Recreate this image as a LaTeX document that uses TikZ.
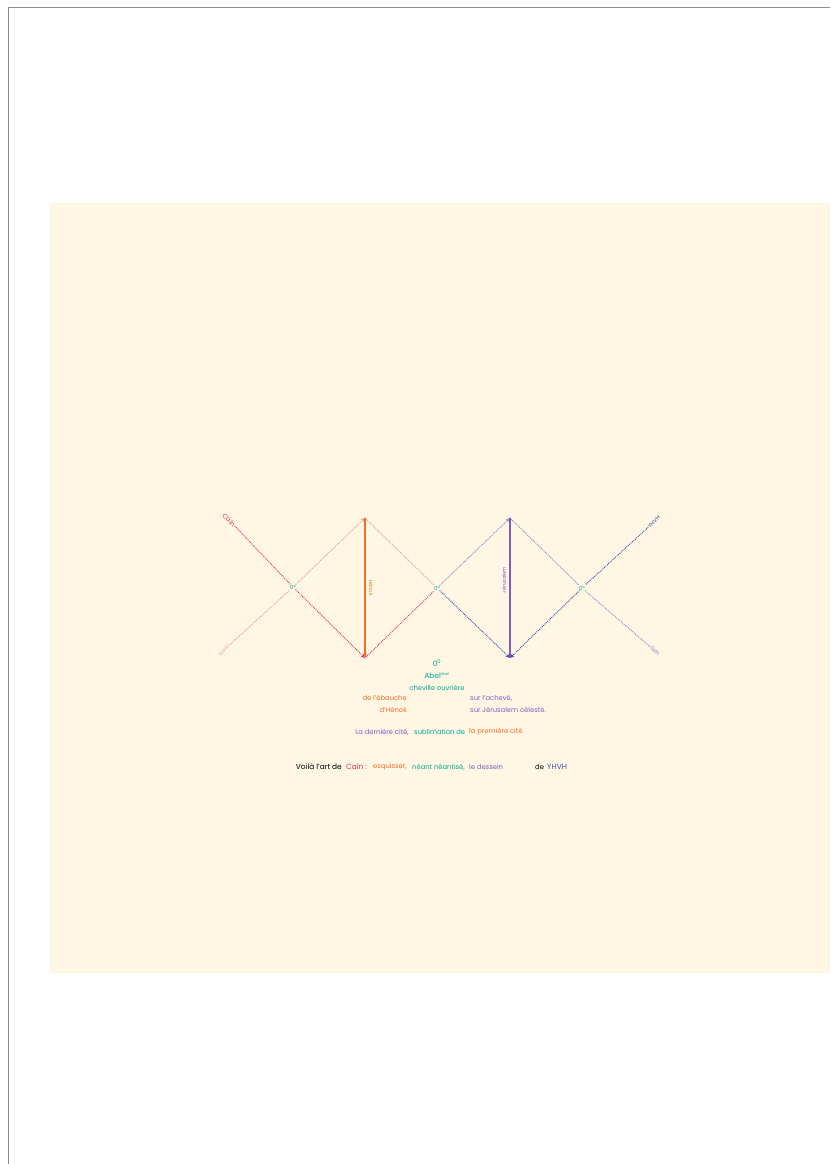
\documentclass[tikz,border=0pt]{standalone}
\usepackage{fontspec}
\setmainfont{Poppins}
\usetikzlibrary{positioning, arrows.meta}
\definecolor{paper}{RGB}{255,247,228}
\definecolor{frame}{RGB}{140,140,140}
\definecolor{cainred}{RGB}{232,45,90}
\definecolor{cainpink}{RGB}{238,150,165}
\definecolor{henorange}{RGB}{240,110,40}
\definecolor{abelteal}{RGB}{0,168,150}
\definecolor{jerpurple}{RGB}{130,90,190}
\definecolor{yhvhblue}{RGB}{60,75,175}
\definecolor{yhvhlight}{RGB}{130,140,205}

\begin{document}
\begin{tikzpicture}[
    x=1pt, y=-1pt,
    every node/.style={font=\fontsize{6.8}{8}\selectfont, inner sep=0pt},
    tag/.style={font=\fontsize{5}{6}\selectfont, inner sep=0.8pt},
    zero/.style={font=\fontsize{5.5}{6}\selectfont, text=abelteal,
        fill=paper, inner sep=0.6pt},
    dotline/.style={line width=1.3pt, line cap=round,
        dash pattern=on 0pt off 1.9pt},
    tip/.style={-{Stealth[length=4.5pt,width=3.5pt]}},
    bar/.style={line width=1.3pt},
]
\useasboundingbox (0,0) rectangle (830,1164);
\fill[white] (0,0) rectangle (830,1164);
\draw[frame, line width=0.8pt] (8,1164) -- (8,7) -- (830,7);
\fill[paper] (50,203) rectangle (830,973);

% ====== ENDS OF THE LINES ======
\node[tag, text=cainred, rotate=-45, font=\fontsize{6.5}{7}\selectfont]
    (cainL) at (229,520) {Caîn};
\node[tag, text=cainpink, rotate=45] (islL) at (224,650) {Isaac};
\node[tag, text=yhvhblue, rotate=45, font=\fontsize{5.5}{6}\selectfont]
    (yhvhL) at (654,522) {YHVH};
\node[tag, text=yhvhlight, rotate=-45] (isrL) at (655,651) {Seth};
\coordinate (henT)  at (365,518);
\coordinate (henB)  at (365,658);
\coordinate (jerT)  at (510,518);
\coordinate (jerB)  at (510,658);

% ====== CROSSINGS ======
\node[zero] (X1) at (293,587) {0°};
\node[zero] (X2) at (437,588) {0°};
\node[zero] (X3) at (582,588) {0°};

% ====== LEFT CROSS ======
\draw[dotline, cainred] (cainL) -- (X1);
\draw[dotline, cainred, tip] (X1) -- (henB);
\draw[dotline, cainpink] (islL) -- (X1);
\draw[dotline, cainpink, tip] (X1) -- (henT);

% ====== MIDDLE CROSS ======
\draw[dotline, cainpink] (henT) -- (X2);
\draw[dotline, yhvhblue, tip] (X2) -- (jerB);
\draw[dotline, cainred] (henB) -- (X2);
\draw[dotline, yhvhlight, tip] (X2) -- (jerT);

% ====== RIGHT CROSS ======
\draw[dotline, yhvhlight] (jerT) -- (X3);
\draw[dotline, yhvhlight] (X3) -- (isrL);
\draw[dotline, yhvhblue] (yhvhL) -- (X3);
\draw[dotline, yhvhblue, tip] (X3) -- (jerB);

% ====== BARS ======
\draw[bar, henorange, tip] (henT) -- (henB);
\draw[bar, jerpurple] (jerB) -- (jerT);
\node[tag, text=henorange, rotate=-90] (henL) at (371,588) {Hénok};
\node[tag, text=jerpurple, rotate=90] (jerL) at (504,580) {Jérusalem};

% ====== TEXT BELOW ======
\node[text=abelteal, font=\fontsize{7.5}{8}\selectfont] (zeroB) at (437,663)
    {0\textsuperscript{0}};
\node[text=abelteal, font=\fontsize{7.5}{8}\selectfont] (abel) at (437,676)
    {Abel\textsuperscript{\scalebox{0.7}{Abel}}};
\node[text=abelteal] (cheville) at (437,688) {cheville ouvrière};

\node[text=henorange, anchor=east] (ebauche) at (407,698) {de l'ébauche};
\node[text=henorange, anchor=east] (henok) at (407,710) {d'Hénok};
\node[text=jerpurple, anchor=west] (acheve) at (470,698) {sur l'achevé,};
\node[text=jerpurple, anchor=west] (celeste) at (470,710)
    {sur Jérusalem céleste.};

\node[text=jerpurple, anchor=east] (derniere) at (409,732)
    {La dernière cité,};
\node[text=abelteal, anchor=west] (sublime) at (414,732) {sublimation de};
\node[text=henorange, anchor=west] (premiere) at (469,732)
    {la première cité.};

\node[text=black, anchor=east, font=\fontsize{7.4}{8}\selectfont]
    (voila) at (342,767) {Voilà l'art de};
\node[text=cainred, anchor=west, font=\fontsize{7.4}{8}\selectfont]
    (cainT) at (346,767) {Caîn :};
\node[text=henorange, anchor=west] (esquisse) at (373,767) {esquisser,};
\node[text=abelteal, anchor=west] (neant) at (412,767) {néant néantisé,};
\node[text=jerpurple, anchor=west] (dessein) at (469,767) {le dessein};
\node[text=black, anchor=west] (deT) at (535,767) {de};
\node[text=yhvhblue, anchor=west, font=\fontsize{7.5}{8}\selectfont]
    (yhvhT) at (547,767) {YHVH};

\end{tikzpicture}
\end{document}
